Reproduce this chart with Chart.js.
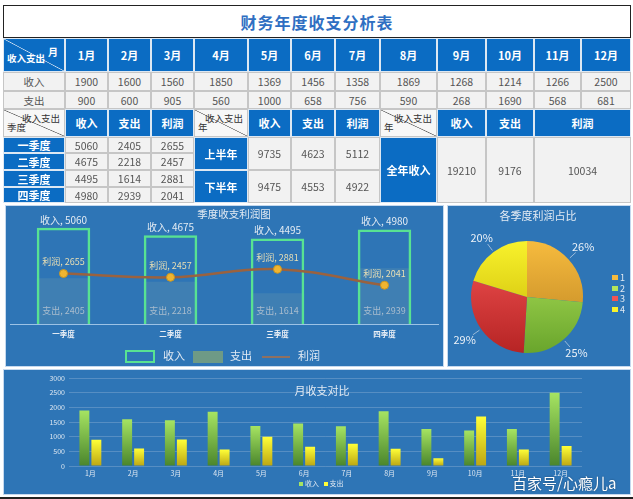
<!DOCTYPE html>
<html>
<head>
<meta charset="utf-8">
<script src="https://cdn.jsdelivr.net/npm/chart.js"></script>
<style>
body{margin:0;background:#fff;width:633px;height:499px;overflow:hidden;position:relative;font-family:'Noto Sans CJK SC','Noto Sans',sans-serif;}
.c{position:absolute;box-sizing:border-box;display:flex;align-items:center;justify-content:center;font-size:10.5px;}
.h{background:#0b6cc3;color:#fff;font-weight:bold;border:1px solid #dde8f3;font-size:11px;}
.g{background:#f2f2f2;color:#555;border:1px solid #c6c6c6;}
.w{background:linear-gradient(to top right,#f7f7f7 calc(50% - 0.7px),#666 50%,#f7f7f7 calc(50% + 0.7px));color:#333;border:1px solid #c6c6c6;}
.hd{background:linear-gradient(to top right,#0b6cc3 calc(50% - 0.7px),#cfe0f2 50%,#0b6cc3 calc(50% + 0.7px));color:#fff;font-weight:bold;border:1px solid #dde8f3;}
.tr{position:absolute;right:4px;top:1px;font-size:9.5px;}
.bl{position:absolute;left:3px;bottom:2px;font-size:9.5px;}
.panel{position:absolute;background:#2e75b6;box-sizing:border-box;border:1px solid #c5d9ef;}
.t{position:absolute;color:#e2eaf3;white-space:nowrap;transform:translate(-50%,-50%);}
.lg{position:absolute;color:#e2eaf3;white-space:nowrap;}
canvas{position:absolute;}
</style>
</head>
<body>
<div class="panel" style="left:5px;top:205px;width:439px;height:162px"></div>
<div class="panel" style="left:447px;top:205px;width:184px;height:162px"></div>
<div class="panel" style="left:3px;top:369px;width:628px;height:126px"></div>
<div style="position:absolute;left:0;top:497px;width:633px;height:2px;background:#222"></div>

<canvas id="qc" width="438" height="162" style="left:5px;top:205px"></canvas>
<canvas id="pc" width="184" height="162" style="left:447px;top:205px"></canvas>
<canvas id="mc" width="628" height="125" style="left:3px;top:370px"></canvas>

<div class="t" style="left:234px;top:213px;font-size:10.5px">季度收支利润图</div>
<div class="t" style="left:538px;top:215px;font-size:11px">各季度利润占比</div>
<div class="t" style="left:322px;top:390px;font-size:11px">月收支对比</div>

<!-- quarter legend -->
<div style="position:absolute;left:125px;top:350px;width:30px;height:13px;box-sizing:border-box;border:2px solid #58e292"></div>
<div class="lg" style="left:163px;top:347px;font-size:11px">收入</div>
<div style="position:absolute;left:193px;top:351px;width:30px;height:12px;background:#6e9a86"></div>
<div class="lg" style="left:230px;top:347px;font-size:11px">支出</div>
<div style="position:absolute;left:262px;top:356px;width:28px;height:1.5px;background:#8f7060"></div>
<div class="lg" style="left:298px;top:347px;font-size:11px">利润</div>

<div id="pieLegend"></div>
<div id="monthLegend" class="lg" style="left:299px;top:478px;font-size:7px"></div>

<div class="lg" style="left:512px;top:472px;font-size:15px;color:#fff;text-shadow:0 0 2px rgba(0,0,0,0.4)">百家号/心瘾儿a</div>

<script>
// 月度数据
const months = ['1月','2月','3月','4月','5月','6月','7月','8月','9月','10月','11月','12月'];
const income = [1900,1600,1560,1850,1369,1456,1358,1869,1268,1214,1266,2500];
const expense = [900,600,905,560,1000,658,756,590,268,1690,568,681];

// 季度
const quarters = ['一季度','二季度','三季度','四季度'];
const qIncome = [5060,4675,4495,4980];
const qExpense = [2405,2218,1614,2939];
const qProfit = [2655,2457,2881,2041];

// 半年 / 全年
const halves = ['上半年','下半年'];
const hIncome = [9735,9475];
const hExpense = [4623,4553];
const hProfit = [5112,4922];
const yearIncome = 19210, yearExpense = 9176, yearProfit = 10034;

const pieLabels = ['1','2','3','4'];
const pieColors = [['#f6bb3e','#b98020'],['#b4e55c','#69a52c'],['#f45454','#b62424'],['#f8f22c','#c4b000']];

// ---------- 表格 ----------
const colX = [3,65,108,151,194,248,291,335,380,437,486,534,581,631];
function cell(c0,c1,y0,y1,html,cls){
  const d = document.createElement('div');
  d.className = 'c '+cls;
  d.style.left = colX[c0]+'px';
  d.style.width = (colX[c1]-colX[c0])+'px';
  d.style.top = y0+'px';
  d.style.height = (y1-y0)+'px';
  d.innerHTML = html;
  document.body.appendChild(d);
  return d;
}
const title = document.createElement('div');
title.style.cssText = 'position:absolute;left:3px;top:5px;width:628px;height:33px;box-sizing:border-box;border:1px solid #222;display:flex;align-items:center;justify-content:center;color:#2f6fc2;font-weight:bold;font-size:16px;letter-spacing:1px';
title.textContent = '财务年度收支分析表';
document.body.appendChild(title);

cell(0,1,38,72,'<span class="tr" style="top:5px;right:6px;font-size:10px">月</span><span class="bl" style="bottom:6px">收入支出</span>','hd');
months.forEach((m,i)=>cell(i+1,i+2,38,72,m,'h'));
cell(0,1,72,91,'收入','g');
income.forEach((v,i)=>cell(i+1,i+2,72,91,v,'g'));
cell(0,1,91,109,'支出','g');
expense.forEach((v,i)=>cell(i+1,i+2,91,109,v,'g'));

const Y = [109,137,153,170,187,203];
cell(0,1,Y[0],Y[1],'<span class="tr">收入支出</span><span class="bl">季度</span>','w');
['收入','支出','利润'].forEach((t,i)=>cell(1+i,2+i,Y[0],Y[1],t,'h'));
cell(4,5,Y[0],Y[1],'<span class="tr">收入支出</span><span class="bl">年</span>','w');
['收入','支出','利润'].forEach((t,i)=>cell(5+i,6+i,Y[0],Y[1],t,'h'));
cell(8,9,Y[0],Y[1],'<span class="tr">收入支出</span><span class="bl">年</span>','w');
cell(9,10,Y[0],Y[1],'收入','h');
cell(10,11,Y[0],Y[1],'支出','h');
cell(11,13,Y[0],Y[1],'利润','h');
quarters.forEach((q,i)=>{
  cell(0,1,Y[i+1],Y[i+2],q,'h');
  cell(1,2,Y[i+1],Y[i+2],qIncome[i],'g');
  cell(2,3,Y[i+1],Y[i+2],qExpense[i],'g');
  cell(3,4,Y[i+1],Y[i+2],qProfit[i],'g');
});
halves.forEach((h,i)=>{
  cell(4,5,Y[1+2*i],Y[3+2*i],h,'h');
  cell(5,6,Y[1+2*i],Y[3+2*i],hIncome[i],'g');
  cell(6,7,Y[1+2*i],Y[3+2*i],hExpense[i],'g');
  cell(7,8,Y[1+2*i],Y[3+2*i],hProfit[i],'g');
});
cell(8,9,Y[1],Y[5],'全年收入','h');
cell(9,10,Y[1],Y[5],yearIncome,'g');
cell(10,11,Y[1],Y[5],yearExpense,'g');
cell(11,13,Y[1],Y[5],yearProfit,'g');

const FONT = "'Noto Sans CJK SC', sans-serif";

// ---------- 季度收支利润图 ----------
const qLabels = {
  id:'qLabels',
  afterDatasetsDraw(chart){
    const ctx = chart.ctx;
    ctx.save();
    ctx.textAlign = 'center';
    ctx.textBaseline = 'middle';
    chart.getDatasetMeta(1).data.forEach((el,i)=>{
      ctx.font = '10px '+FONT; ctx.fillStyle = '#e3ebf3';
      ctx.fillText('收入, '+qIncome[i], el.x, el.y-8);
    });
    chart.getDatasetMeta(2).data.forEach((el,i)=>{
      ctx.font = '9px '+FONT; ctx.fillStyle = '#a9bccd';
      ctx.fillText('支出, '+qExpense[i], el.x, el.base-13);
    });
    chart.getDatasetMeta(0).data.forEach((el,i)=>{
      ctx.font = '9px '+FONT; ctx.fillStyle = '#e9dfb4';
      ctx.fillText('利润, '+qProfit[i], el.x, el.y-12);
    });
    ctx.restore();
  }
};
new Chart(document.getElementById('qc'), {
  type:'bar',
  data:{
    labels:quarters,
    datasets:[
      {type:'line',label:'利润',data:qProfit,borderColor:'#9a623f',borderWidth:2.5,tension:0.4,
       pointRadius:4,pointBackgroundColor:'#f0b530',pointBorderColor:'#c99520',pointBorderWidth:1,order:0},
      {label:'收入',data:qIncome,backgroundColor:'rgba(0,0,0,0)',borderColor:'#58e292',borderWidth:2.5,
       grouped:false,order:1,barPercentage:0.5,categoryPercentage:1},
      {label:'支出',data:qExpense,backgroundColor:'rgba(160,185,170,0.15)',borderWidth:0,
       grouped:false,order:2,barPercentage:0.5,categoryPercentage:1}
    ]
  },
  options:{
    animation:false,responsive:false,
    layout:{padding:{top:0,left:0,right:0,bottom:22}},
    plugins:{legend:{display:false},tooltip:{enabled:false}},
    scales:{
      x:{grid:{display:false,drawTicks:false},border:{display:true,color:'#9cc2e5',width:1},
         ticks:{color:'#e8eef5',font:{size:7.5,weight:'bold',family:FONT},padding:6}},
      y:{display:false,min:0,max:6000}
    }
  },
  plugins:[qLabels]
});

// ---------- 各季度利润占比 ----------
function pcts(vals){
  const tot = vals.reduce((a,b)=>a+b,0);
  const raw = vals.map(v=>v*100/tot);
  const out = raw.map(Math.floor);
  let left = 100-out.reduce((a,b)=>a+b,0);
  raw.map((r,i)=>[r-Math.floor(r),i]).sort((a,b)=>b[0]-a[0]).forEach(([_,i])=>{ if(left>0){out[i]++;left--;} });
  return out;
}
const piePct = pcts(qProfit);
const pieText = {
  id:'pieText',
  afterDatasetsDraw(chart){
    const ctx = chart.ctx;
    ctx.save();
    ctx.font = '11px '+FONT;
    ctx.fillStyle = '#edf2f8';
    ctx.strokeStyle = 'rgba(200,215,232,0.7)';
    ctx.lineWidth = 1;
    ctx.textAlign = 'center';
    ctx.textBaseline = 'middle';
    chart.getDatasetMeta(0).data.forEach((arc,i)=>{
      const a = (arc.startAngle+arc.endAngle)/2;
      const r = arc.outerRadius;
      ctx.beginPath();
      ctx.moveTo(arc.x+Math.cos(a)*(r+2),arc.y+Math.sin(a)*(r+2));
      ctx.lineTo(arc.x+Math.cos(a)*(r+10),arc.y+Math.sin(a)*(r+10));
      ctx.stroke();
      ctx.fillText(piePct[i]+'%',arc.x+Math.cos(a)*(r+20),arc.y+Math.sin(a)*(r+18));
    });
    ctx.restore();
  }
};
new Chart(document.getElementById('pc'), {
  type:'pie',
  data:{labels:pieLabels,datasets:[{data:qProfit,borderWidth:0,
    backgroundColor:c=>{
      const col = pieColors[c.dataIndex] || pieColors[0];
      const ca = c.chart.chartArea;
      if(!ca) return col[0];
      const g = c.chart.ctx.createLinearGradient(0,ca.top,0,ca.bottom);
      g.addColorStop(0,col[0]); g.addColorStop(1,col[1]);
      return g;
    }}]},
  options:{animation:false,responsive:false,
    layout:{padding:{left:24,right:48,top:36,bottom:14}},
    plugins:{legend:{display:false},tooltip:{enabled:false}}},
  plugins:[pieText]
});
const pl = document.getElementById('pieLegend');
pieLabels.forEach((l,i)=>{
  const y = 277+i*10.7;
  pl.insertAdjacentHTML('beforeend',
    `<div style="position:absolute;left:612px;top:${y-2}px;width:6px;height:5px;background:${pieColors[i][0]}"></div>`+
    `<div class="lg" style="left:620px;top:${y-6}px;font-size:9px">${l}</div>`);
});

// ---------- 月收支对比 ----------
function barGrad(c,top,bot){
  const chart = c.chart;
  if(!chart.chartArea || c.raw===undefined) return top;
  const y = chart.scales.y;
  const yt = y.getPixelForValue(c.raw), yb = y.getPixelForValue(0);
  const g = chart.ctx.createLinearGradient(0,yt,0,yb+0.1);
  g.addColorStop(0,top); g.addColorStop(1,bot);
  return g;
}
const incomeCols = ['#a6e462','#4a852c'];
const expenseCols = ['#ffff38','#bca612'];
new Chart(document.getElementById('mc'), {
  type:'bar',
  data:{labels:months,datasets:[
    {label:'收入',data:income,backgroundColor:c=>barGrad(c,incomeCols[0],incomeCols[1])},
    {label:'支出',data:expense,backgroundColor:c=>barGrad(c,expenseCols[0],expenseCols[1])}
  ]},
  options:{animation:false,responsive:false,
    datasets:{bar:{categoryPercentage:0.56,barPercentage:0.83}},
    layout:{padding:{left:26,right:49,top:7,bottom:17}},
    plugins:{legend:{display:false},tooltip:{enabled:false}},
    scales:{
      x:{grid:{display:false,drawTicks:false},border:{display:false},
         ticks:{color:'#dde7f1',font:{size:7,family:FONT},padding:3},afterFit:s=>{s.height=12;}},
      y:{min:0,max:3000,ticks:{stepSize:500,color:'#dde7f1',font:{size:7,family:FONT},padding:4,callback:v=>String(v)},
         grid:{color:'rgba(160,190,220,0.35)',drawTicks:false},border:{display:false},afterFit:s=>{s.width=40;}}
    }}
});
document.getElementById('monthLegend').innerHTML =
  `<span style="display:inline-block;width:4px;height:4px;background:${incomeCols[0]};margin-right:2px"></span>收入 `+
  `<span style="display:inline-block;width:4px;height:4px;background:${expenseCols[0]};margin:0 2px 0 3px"></span>支出`;
</script>
</body>
</html>
